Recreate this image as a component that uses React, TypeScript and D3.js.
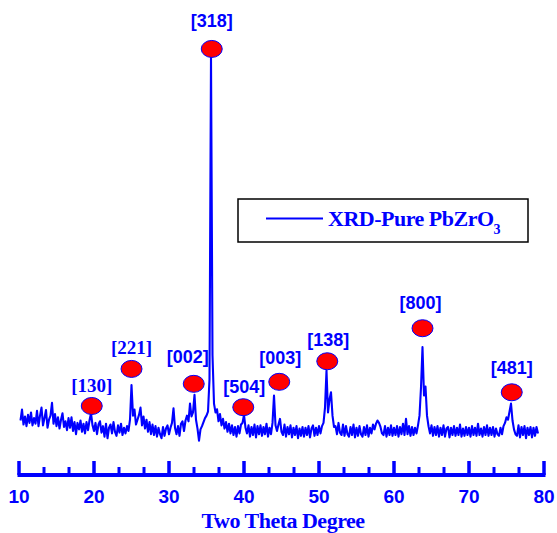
import React from "react";
import * as d3 from "d3";

// 2θ grid: start, step (degrees)
const thetaStart = 10.2;
const thetaStep = 0.2;

// Intensity (a.u.), one value per 0.2° from 10.2° to 79.2°
const intensity: number[] = [
  // 10.2 - 12.0
  98, 125, 88, 108, 84, 112, 92, 118, 86, 104,
  // 12.2 - 14.0
  90, 122, 84, 110, 130, 86, 104, 124, 80, 100,
  // 14.2 - 16.0
  110, 142, 90, 114, 84, 106, 78, 100, 116, 82,
  // 16.2 - 18.0
  96, 74, 104, 80, 106, 72, 94, 64, 92, 76,
  // 18.2 - 20.0
  98, 70, 90, 66, 94, 74, 98, 116, 86, 72,
  // 20.2 - 22.0
  92, 64, 88, 96, 68, 84, 58, 90, 54, 80,
  // 22.2 - 24.0
  88, 66, 94, 70, 60, 86, 68, 90, 62, 80,
  // 24.2 - 26.0
  66, 84, 72, 100, 186, 110, 125, 88, 100, 112,
  // 26.2 - 28.0
  130, 86, 108, 78, 100, 70, 94, 64, 88, 62,
  // 28.2 - 30.0
  84, 58, 80, 64, 54, 82, 60, 78, 86, 64,
  // 30.2 - 32.0
  80, 92, 128, 80, 64, 84, 60, 90, 96, 72,
  // 32.2 - 34.0
  98, 110, 96, 140, 108, 118, 162, 100, 78, 48,
  // 34.2 - 36.0
  76, 84, 94, 104, 110, 120, 200, 1000, 260, 140,
  // 36.2 - 38.0
  118, 126, 96, 114, 86, 102, 78, 94, 70, 90,
  // 38.2 - 40.0
  66, 86, 62, 82, 58, 84, 66, 88, 92, 112,
  // 40.2 - 42.0
  80, 66, 86, 58, 82, 62, 88, 56, 84, 64,
  // 42.2 - 44.0
  86, 60, 82, 64, 90, 58, 80, 64, 92, 160,
  // 44.2 - 46.0
  86, 72, 88, 102, 70, 62, 88, 58, 82, 64,
  // 46.2 - 48.0
  86, 56, 80, 62, 84, 54, 78, 60, 82, 58,
  // 48.2 - 50.0
  80, 62, 84, 56, 78, 86, 60, 80, 62, 84,
  // 50.2 - 52.0
  66, 84, 92, 130, 222, 118, 150, 168, 110, 82,
  // 52.2 - 54.0
  84, 64, 92, 68, 62, 88, 60, 84, 64, 58,
  // 54.2 - 56.0
  82, 62, 88, 56, 80, 60, 84, 64, 58, 82,
  // 56.2 - 58.0
  62, 86, 58, 80, 66, 88, 76, 90, 98, 92,
  // 58.2 - 60.0
  82, 66, 62, 84, 58, 80, 62, 86, 60, 80,
  // 60.2 - 62.0
  62, 84, 58, 82, 64, 90, 62, 102, 64, 84,
  // 62.2 - 64.0
  60, 82, 62, 80, 66, 86, 110, 180, 280, 160,
  // 64.2 - 66.0
  182, 110, 84, 66, 86, 60, 82, 62, 84, 58,
  // 66.2 - 68.0
  80, 62, 86, 58, 78, 82, 56, 80, 62, 84,
  // 68.2 - 70.0
  60, 80, 62, 88, 58, 78, 60, 82, 62, 80,
  // 70.2 - 72.0
  58, 84, 62, 80, 60, 90, 62, 78, 58, 82,
  // 72.2 - 74.0
  62, 86, 60, 80, 62, 82, 58, 78, 64, 60,
  // 74.2 - 76.0
  80, 64, 84, 92, 106, 100, 120, 140, 98, 76,
  // 76.2 - 78.0
  64, 60, 86, 56, 82, 62, 84, 54, 80, 62,
  // 78.2 - 79.2
  82, 56, 80, 60, 82, 66,
];

// Peak annotations
const peakLabels = ["[130]", "[221]", "[002]", "[318]", "[504]", "[003]", "[138]", "[800]", "[481]"];
const peakTheta = [19.7, 25.0, 33.3, 35.7, 39.9, 44.7, 51.1, 63.8, 75.7];
const peakMarkerI = [134, 226, 189, 1020, 131, 194, 245, 327, 168];
const peakLabelI = [168, 264, 241, 1075, 166, 239, 284, 374, 213];
const peakLabelSerif = [true, true, false, false, false, false, false, false, false];
const peakLabelDx = [0, 0, -6, 0, 1, 1, 1, -2, 0];

const xTicksMajor = [10, 20, 30, 40, 50, 60, 70, 80];
const legendText = "XRD-Pure PbZrO";
const legendSub = "3";
const xTitle = "Two Theta Degree";

const BLUE = "#0000FF";
const SERIF = "'Liberation Serif', 'Times New Roman', serif";
const SANS = "'Liberation Sans', Arial, sans-serif";

export default function App() {
  const W = 557;
  const H = 533;
  const x = d3.scaleLinear().domain([10, 80]).range([19, 544]);
  const y = d3.scaleLinear().domain([0, 1000]).range([460, 57]);
  const axisY = 475;

  const data = intensity.map((v, i) => ({ t: thetaStart + i * thetaStep, v }));
  const line = d3
    .line<{ t: number; v: number }>()
    .x((d) => x(d.t))
    .y((d) => y(d.v));

  const minorTicks: number[] = [];
  for (let k = 0; k < 7; k++) {
    for (let j = 1; j < 3; j++) minorTicks.push(10 + k * 10 + (j * 10) / 3);
  }

  return (
    <svg
      width={W}
      height={H}
      style={{ position: "absolute", left: 0, top: 0, background: "#fff" }}
    >
      <rect x={0} y={0} width={W} height={H} fill="#fff" />
      {/* spectrum */}
      <path d={line(data) || ""} fill="none" stroke={BLUE} strokeWidth={2.1} strokeLinejoin="round" />

      {/* peak markers & labels */}
      {peakLabels.map((lab, i) => (
        <g key={lab}>
          <ellipse
            cx={x(peakTheta[i])}
            cy={y(peakMarkerI[i])}
            rx={10.5}
            ry={8.5}
            fill="#FF0000"
            stroke={BLUE}
            strokeWidth={1}
          />
          <text
            x={x(peakTheta[i]) + peakLabelDx[i]}
            y={y(peakLabelI[i])}
            textAnchor="middle"
            fill={BLUE}
            fontFamily={peakLabelSerif[i] ? SERIF : SANS}
            fontWeight="bold"
            fontSize={peakLabelSerif[i] ? 19 : 18}
          >
            {lab}
          </text>
        </g>
      ))}

      {/* x axis */}
      <line x1={x(10) - 1.5} x2={x(80) + 1.5} y1={axisY} y2={axisY} stroke={BLUE} strokeWidth={4} />
      {xTicksMajor.map((t) => (
        <line key={"M" + t} x1={x(t)} x2={x(t)} y1={axisY} y2={axisY - 14} stroke={BLUE} strokeWidth={3.5} />
      ))}
      {minorTicks.map((t) => (
        <line key={"m" + t} x1={x(t)} x2={x(t)} y1={axisY} y2={axisY - 8} stroke={BLUE} strokeWidth={3} />
      ))}
      {xTicksMajor.map((t) => (
        <text
          key={"L" + t}
          x={x(t)}
          y={503}
          textAnchor="middle"
          fill={BLUE}
          fontFamily={SANS}
          fontWeight="bold"
          fontSize={19}
        >
          {t}
        </text>
      ))}
      <text
        x={283}
        y={528}
        textAnchor="middle"
        fill={BLUE}
        fontFamily={SERIF}
        fontWeight="bold"
        fontSize={22}
        letterSpacing={-0.5}
      >
        {xTitle}
      </text>

      {/* legend */}
      <rect x={238} y={199} width={290} height={43} fill="#fff" stroke="#000" strokeWidth={1.5} />
      <line x1={266} x2={323} y1={218.5} y2={218.5} stroke={BLUE} strokeWidth={2} />
      <text x={328} y={226} fill={BLUE} fontFamily={SERIF} fontWeight="bold" fontSize={22} letterSpacing={-0.5}>
        {legendText}
        <tspan fontSize={14} dy={8}>
          {legendSub}
        </tspan>
      </text>
    </svg>
  );
}
